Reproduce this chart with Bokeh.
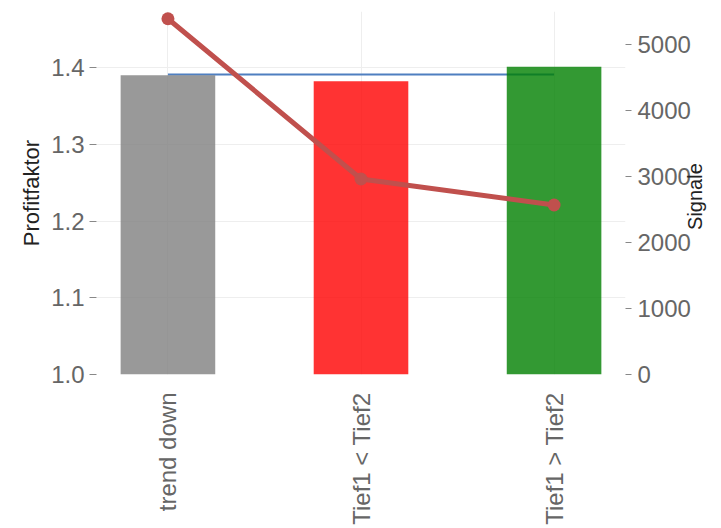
from bokeh.plotting import figure
from bokeh.models import Range1d, LinearAxis, FixedTicker, ColumnDataSource, NumeralTickFormatter
from bokeh.embed import file_html
from bokeh.resources import INLINE

categories = ["trend down", "Tief1 < Tief2", "Tief1 > Tief2"]
profitfaktor = [1.39, 1.382, 1.401]
signale = [5390, 2962, 2568]
bar_colors = ["#808080", "#ff0000", "#008000"]
avg_profitfaktor = 1.391
left_ticks = [1.0, 1.1, 1.2, 1.3, 1.4]
right_ticks = [0, 1000, 2000, 3000, 4000, 5000]

xs = list(range(len(categories)))
FONT = "Liberation Sans"

p = figure(width=721, height=528, output_backend="svg", toolbar_location=None,
           x_range=Range1d(-0.37, 2.37), y_range=Range1d(1.0, 1.473),
           min_border_left=96, min_border_right=96, min_border_top=11,
           min_border_bottom=154)
p.outline_line_color = None
p.extra_y_ranges = {"sig": Range1d(0, 5500)}

# average line (under the bars)
p.line(x=[xs[0], xs[-1]], y=[avg_profitfaktor, avg_profitfaktor],
       line_color="#4f7fc0", line_width=2)

src = ColumnDataSource(dict(x=xs, top=profitfaktor, color=bar_colors))
p.vbar(x="x", top="top", bottom=1.0, width=0.49, fill_color="color",
       fill_alpha=0.8, line_color=None, source=src)

p.line(x=xs, y=signale, y_range_name="sig", line_color="#c0504d", line_width=5)
p.scatter(x=xs, y=signale, y_range_name="sig", size=13, fill_color="#c0504d",
          line_color=None)

# axes styling
p.xaxis.ticker = FixedTicker(ticks=xs)
p.xaxis.major_label_overrides = {i: c for i, c in zip(xs, categories)}
p.xaxis.major_label_orientation = 1.5708
p.xaxis.axis_line_color = None
p.xaxis.major_tick_line_color = None
p.xaxis.minor_tick_line_color = None
p.xaxis.major_label_text_font = FONT
p.xaxis.major_label_text_font_size = "24px"
p.xaxis.major_label_text_color = "#666666"
p.xaxis.major_label_standoff = 12

p.yaxis.ticker = FixedTicker(ticks=left_ticks)
p.yaxis.formatter = NumeralTickFormatter(format="0.0")
p.yaxis.axis_label = "Profitfaktor"
p.yaxis.axis_line_color = None
p.yaxis.major_tick_line_color = "#888888"
p.yaxis.major_tick_in = 0
p.yaxis.major_tick_out = 7
p.yaxis.minor_tick_line_color = None
p.yaxis.major_label_text_font = FONT
p.yaxis.major_label_text_font_size = "24px"
p.yaxis.major_label_text_color = "#666666"
p.yaxis.major_label_standoff = 5
p.yaxis.axis_label_text_font = FONT
p.yaxis.axis_label_text_font_size = "22px"
p.yaxis.axis_label_text_font_style = "normal"
p.yaxis.axis_label_text_color = "#222222"
p.yaxis.axis_label_standoff = 4

ax2 = LinearAxis(y_range_name="sig", ticker=FixedTicker(ticks=right_ticks))
ax2.axis_line_color = None
ax2.major_tick_line_color = "#888888"
ax2.major_tick_in = 0
ax2.major_tick_out = 6
ax2.minor_tick_line_color = None
ax2.major_label_text_font = FONT
ax2.major_label_text_font_size = "24px"
ax2.major_label_text_color = "#666666"
ax2.major_label_standoff = 6
p.add_layout(ax2, "right")

# right axis title "Signale" (reads bottom-to-top), as an outer axis with one labelled tick
title_pos = 2190
ax3 = LinearAxis(y_range_name="sig", ticker=FixedTicker(ticks=[title_pos]))
ax3.major_label_overrides = {title_pos: "Signale"}
ax3.major_label_orientation = 1.5708
ax3.axis_line_color = None
ax3.major_tick_line_color = None
ax3.minor_tick_line_color = None
ax3.major_tick_in = 0
ax3.major_tick_out = 0
ax3.major_label_standoff = 2
ax3.major_label_text_font = FONT
ax3.major_label_text_font_size = "20px"
ax3.major_label_text_color = "#222222"
p.add_layout(ax3, "right")

p.xgrid.grid_line_color = "#eeeeee"
p.ygrid.grid_line_color = "#eeeeee"
p.xgrid.grid_line_width = 1
p.ygrid.grid_line_width = 1

open("out.html", "w").write(file_html(p, INLINE))
